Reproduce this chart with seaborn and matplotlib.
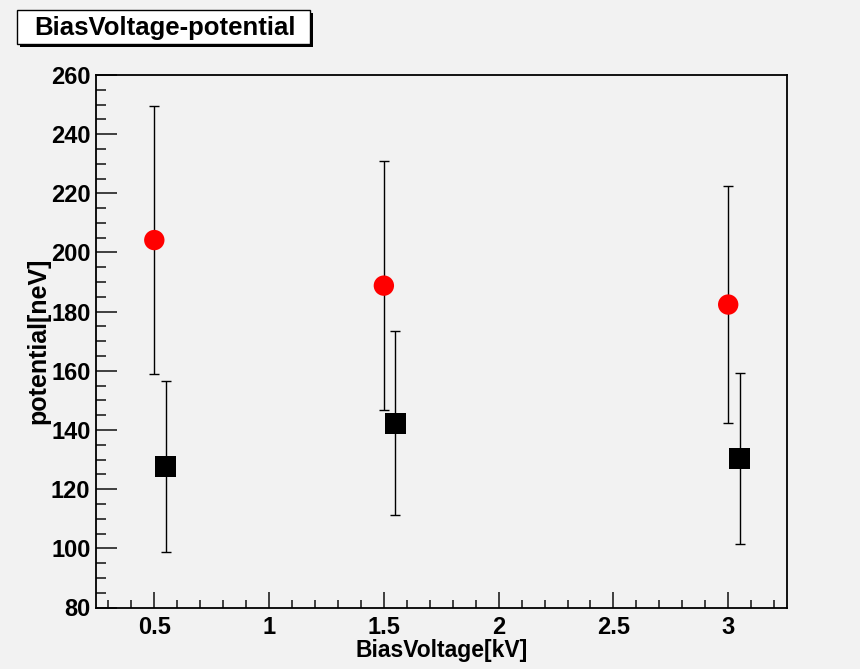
import matplotlib
matplotlib.use("Agg")
import matplotlib.pyplot as plt
import seaborn as sns
import pandas as pd
from matplotlib.patches import Rectangle
from matplotlib.ticker import MultipleLocator

# ---- data ----
red_x = [0.5, 1.5, 3.0]
red_y = [204.2, 188.8, 182.4]
red_err = [45.3, 42.1, 40.2]
black_x = [0.55, 1.55, 3.05]
black_y = [127.7, 142.3, 130.3]
black_err = [29.0, 31.0, 29.0]
xticks = [0.5, 1, 1.5, 2, 2.5, 3]
xticklabels = ["0.5", "1", "1.5", "2", "2.5", "3"]
title = "BiasVoltage-potential"
xlabel = "BiasVoltage[kV]"
ylabel = "potential[neV]"

bg = "#f2f2f2"
sns.set_theme(style="white")
plt.rcParams['font.family'] = ['Liberation Sans', 'DejaVu Sans']
plt.rcParams['font.weight'] = 'bold'
plt.rcParams['text.color'] = 'black'
plt.rcParams['axes.labelcolor'] = 'black'
plt.rcParams['xtick.color'] = 'black'
plt.rcParams['ytick.color'] = 'black'

fig = plt.figure(figsize=(8.6, 6.69), dpi=100, facecolor=bg)
ax = fig.add_axes([96/860, 1-607.5/669, (786.5-96)/860, (607.5-75)/669])
ax.set_facecolor(bg)

df = pd.DataFrame({
    "x": red_x + black_x,
    "y": red_y + black_y,
    "err": red_err + black_err,
    "series": ["red"] * len(red_x) + ["black"] * len(black_x),
})

for s in ["red", "black"]:
    d = df[df.series == s]
    ax.errorbar(d.x, d.y, yerr=d.err, fmt="none", ecolor="black",
                elinewidth=1.0, capsize=3.5, capthick=1.0, zorder=2)

sns.scatterplot(data=df[df.series == "red"], x="x", y="y", color="#ff0000",
                marker="o", s=215, edgecolor="none", legend=False, ax=ax, zorder=3)
sns.scatterplot(data=df[df.series == "black"], x="x", y="y", color="#000000",
                marker="s", s=225, edgecolor="none", legend=False, ax=ax, zorder=3)

ax.set_xlim(0.246, 3.254)
ax.set_ylim(80, 260)
ax.xaxis.set_minor_locator(MultipleLocator(0.1))
ax.yaxis.set_major_locator(MultipleLocator(20))
ax.yaxis.set_minor_locator(MultipleLocator(5))
ax.set_xticks(xticks)
ax.set_xticklabels(xticklabels)

for sp in ax.spines.values():
    sp.set_visible(True)
    sp.set_color("black")
    sp.set_linewidth(1.3)

ax.tick_params(axis="both", which="both", direction="in", top=False, right=False,
               bottom=True, left=True, color="#222222", width=1.2,
               labelcolor="black")
ax.tick_params(axis="y", which="major", length=15, labelsize=17, pad=4)
ax.tick_params(axis="y", which="minor", length=7.5)
ax.tick_params(axis="x", which="major", length=11.5, labelsize=17, pad=6)
ax.tick_params(axis="x", which="minor", length=6)
for lab in ax.get_xticklabels() + ax.get_yticklabels():
    lab.set_fontweight("bold")

ax.set_xlabel(xlabel, fontsize=16.5, fontweight="bold", labelpad=0)
ax.set_ylabel(ylabel, fontsize=18, fontweight="bold", labelpad=0.5)

# title box with shadow
W, H = 860, 669
fig.patches.append(Rectangle((20/W, 1-47/H), 293/W, 34/H, transform=fig.transFigure,
                             facecolor="black", edgecolor="none", zorder=1))
fig.patches.append(Rectangle((17/W, 1-44/H), 293/W, 34/H, transform=fig.transFigure,
                             facecolor="white", edgecolor="black", linewidth=1.0, zorder=2))
fig.text(165/W, 1-28/H, title, ha="center", va="center", fontsize=18.5,
         fontweight="bold", zorder=3)

fig.savefig("out.png", dpi=100, facecolor=bg)
